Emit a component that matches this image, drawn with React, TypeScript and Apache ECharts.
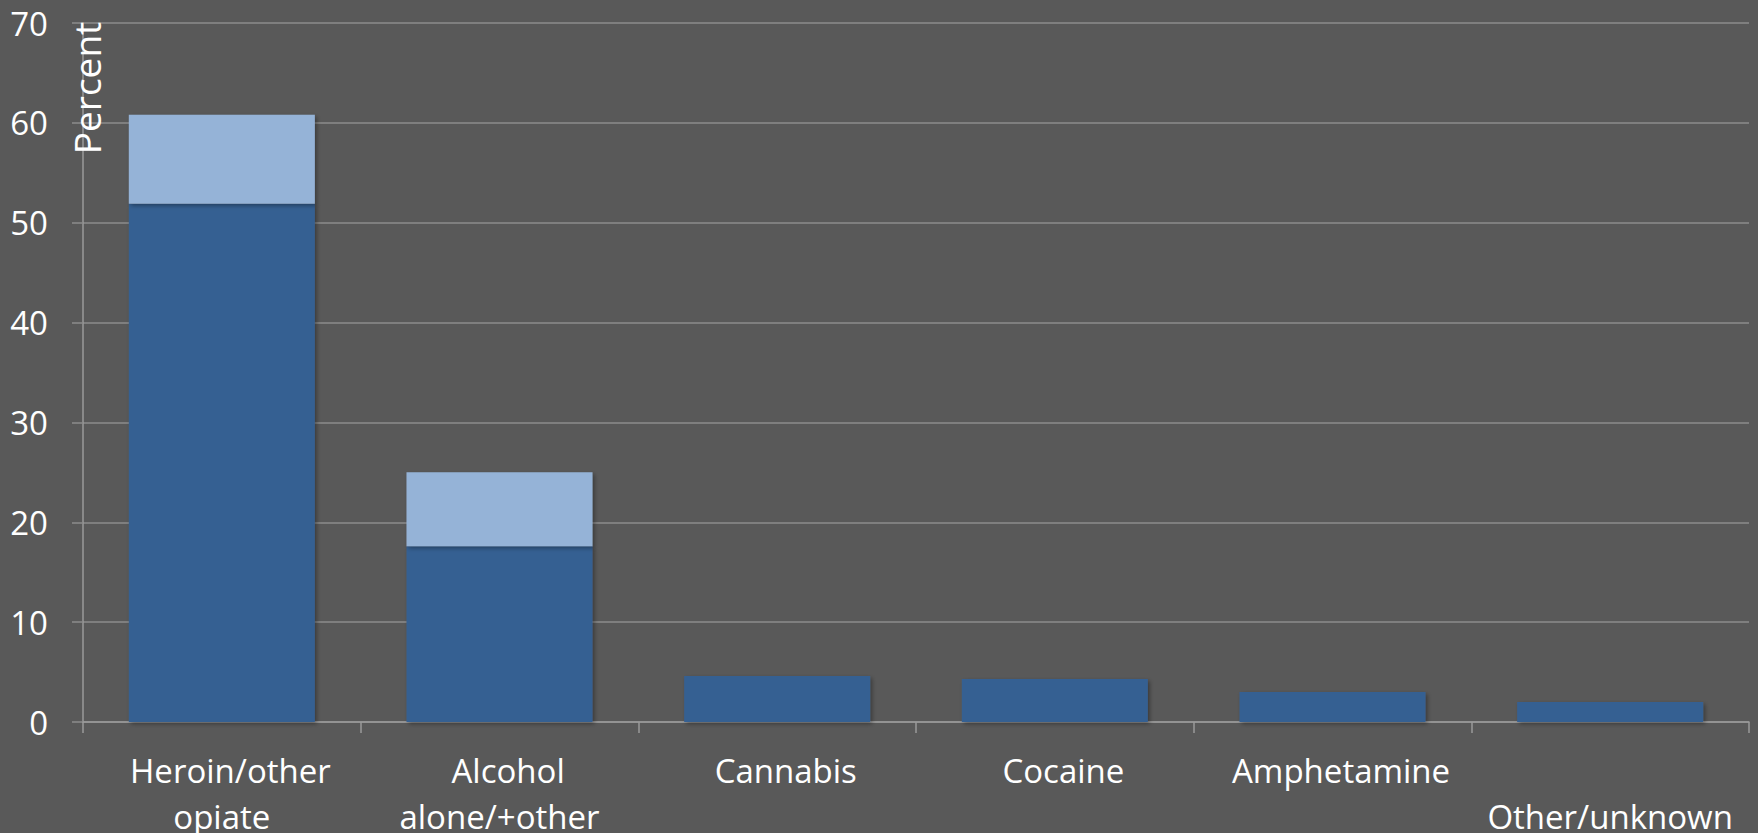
import React, { useEffect, useRef } from "react";
import * as echarts from "echarts";

const categories = ["Heroin/other\nopiate", "Alcohol\nalone/+other", "Cannabis", "Cocaine", "Amphetamine", "\nOther/unknown"];
const primaryValues = [51.9, 17.6, 4.6, 4.3, 3.0, 2.0];
const secondaryValues = [8.9, 7.4, null, null, null, null];
const yTicks = { min: 0, max: 70, interval: 10 };
const yName = "Percent";

export default function App() {
  const ref = useRef<HTMLDivElement>(null);
  useEffect(() => {
    if (!ref.current) return;
    const chart = echarts.init(ref.current, null, { renderer: "svg" });
    const font = "'Open Sans', 'Noto Sans', sans-serif";
    const barShadow = {
      shadowBlur: 4,
      shadowColor: "rgba(0,0,0,0.35)",
      shadowOffsetX: 2,
      shadowOffsetY: 2,
    };
    chart.setOption({
      animation: false,
      backgroundColor: "#595959",
      grid: { left: 83, right: 9, top: 23, bottom: 111, containLabel: false, outerBoundsMode: "none" },
      xAxis: {
        type: "category",
        data: categories,
        axisLine: { show: true, lineStyle: { color: "#9a9a9a", width: 1.5 } },
        axisTick: { show: true, length: 11, lineStyle: { color: "#9a9a9a", width: 1.5 } },
        axisLabel: {
          interval: 0,
          color: "#ffffff",
          fontFamily: font,
          fontSize: 33,
          lineHeight: 46,
          margin: 25,
          formatter: (v: string) => {
            const parts = v.split("\n");
            if (parts[0] !== "") parts[0] = "  " + parts[0];
            return parts.join("\n");
          },
        },
        splitLine: { show: false },
      },
      yAxis: {
        type: "value",
        min: yTicks.min,
        max: yTicks.max,
        interval: yTicks.interval,
        axisLine: { show: true, lineStyle: { color: "#9a9a9a", width: 1.5 } },
        axisTick: { show: true, length: 11, lineStyle: { color: "#8c8c8c", width: 1.5 } },
        axisLabel: {
          color: "#ffffff",
          fontFamily: font,
          fontSize: 33,
          margin: 35,
        },
        splitLine: { show: true, lineStyle: { color: "#8c8c8c", width: 1.5 } },
      },
      graphic: [
        {
          type: "text",
          x: 86,
          y: 88,
          rotation: Math.PI / 2,
          style: {
            text: yName,
            fill: "#ffffff",
            font: `37px ${font}`,
            align: "center",
            verticalAlign: "middle",
          },
          z: 100,
        },
      ],
      series: [
        {
          name: "primary",
          type: "bar",
          stack: "total",
          data: primaryValues,
          barCategoryGap: "33%",
          itemStyle: { color: "#366092", ...barShadow },
        },
        {
          name: "secondary",
          type: "bar",
          stack: "total",
          data: secondaryValues,
          barCategoryGap: "33%",
          itemStyle: { color: "#95b3d7", ...barShadow },
        },
      ],
    });
    return () => chart.dispose();
  }, []);
  return (
    <div
      ref={ref}
      style={{ position: "absolute", left: 0, top: 0, width: 1758, height: 833 }}
    />
  );
}
